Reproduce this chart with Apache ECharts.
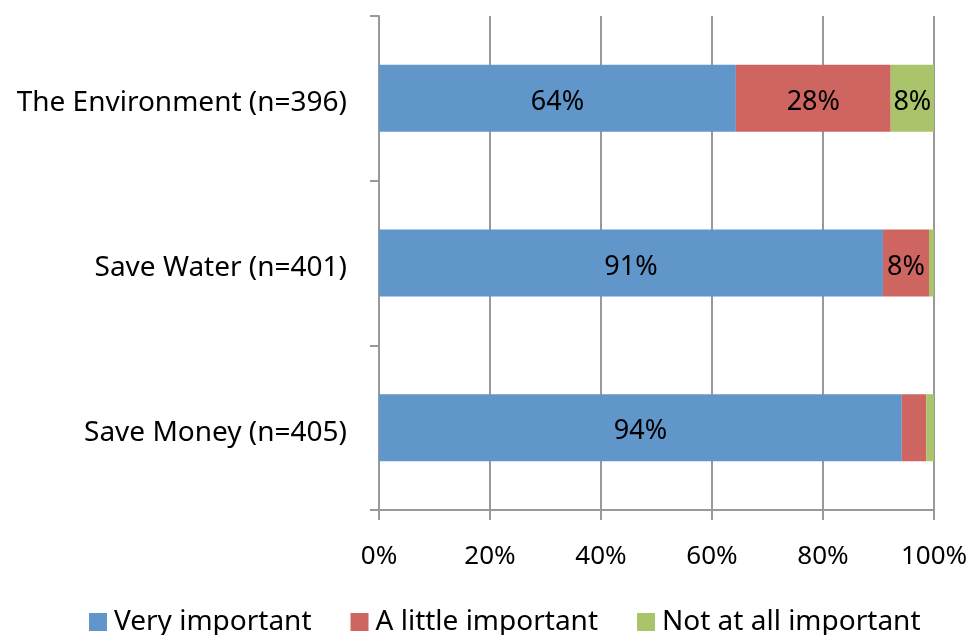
<!DOCTYPE html>
<html>
<head>
<meta charset="utf-8">
<script src="https://cdn.jsdelivr.net/npm/echarts@6/dist/echarts.min.js"></script>
<style>
  html, body { margin: 0; padding: 0; background: #fff; }
  #chart { width: 972px; height: 635px; }
</style>
</head>
<body>
<div id="chart"></div>
<script>
// Reasons rated by importance, share of respondents (%)
const categories = ['The Environment (n=396)', 'Save Water (n=401)', 'Save Money (n=405)'];
const veryImportant = [64.3, 90.8, 94.2];
const littleImportant = [27.9, 8.3, 4.4];
const notImportant = [7.8, 0.9, 1.4];
const seriesNames = ['Very important', 'A little important', 'Not at all important'];
const xTicks = [0, 20, 40, 60, 80, 100];

const FONT = 'Noto Sans';
const colors = ['#6096C9', '#CE6560', '#A9C46A'];

// only label segments wide enough to hold their text
const labelFmt = p => (p.value >= 5 ? Math.round(p.value) + '%' : '');

function bar(name, data, color) {
  return {
    name, type: 'bar', stack: 'total', data,
    barWidth: 67,
    itemStyle: { color },
    label: {
      show: true, position: 'inside', formatter: labelFmt,
      color: '#000', fontFamily: FONT, fontSize: 27, offset: [0, 4]
    }
  };
}

const chart = echarts.init(document.getElementById('chart'), null, { renderer: 'canvas' });
chart.setOption({
  animation: false,
  textStyle: { fontFamily: FONT },
  grid: { left: 379, right: 38, top: 16, bottom: 125, containLabel: false },
  xAxis: {
    type: 'value', min: 0, max: 100, interval: 20,
    axisLine: { show: true, lineStyle: { color: '#999', width: 2 } },
    axisTick: { show: true, length: 10, lineStyle: { color: '#999', width: 2 } },
    splitLine: { show: true, lineStyle: { color: '#999', width: 2 } },
    axisLabel: {
      margin: 34, color: '#000', fontFamily: FONT, fontSize: 26,
      formatter: v => xTicks.includes(v) ? v + '%' : ''
    }
  },
  yAxis: {
    type: 'category', data: categories, inverse: true,
    axisLine: { show: true, lineStyle: { color: '#999', width: 2 } },
    axisTick: { show: true, length: 9, lineStyle: { color: '#999', width: 2 } },
    axisLabel: {
      margin: 32, color: '#000', fontFamily: FONT, fontSize: 28,
      formatter: v => '{c|' + v + '}',
      rich: { c: { color: '#000', fontFamily: FONT, fontSize: 28, padding: [10, 0, 0, 0] } }
    }
  },
  legend: {
    top: 603, left: 84, itemGap: 39,
    itemWidth: 18, itemHeight: 18, icon: 'rect',
    textStyle: { color: '#000', fontFamily: FONT, fontSize: 28, padding: [0, 0, 0, 2] },
    data: seriesNames
  },
  series: [
    bar(seriesNames[0], veryImportant, colors[0]),
    bar(seriesNames[1], littleImportant, colors[1]),
    bar(seriesNames[2], notImportant, colors[2])
  ]
});
</script>
</body>
</html>
